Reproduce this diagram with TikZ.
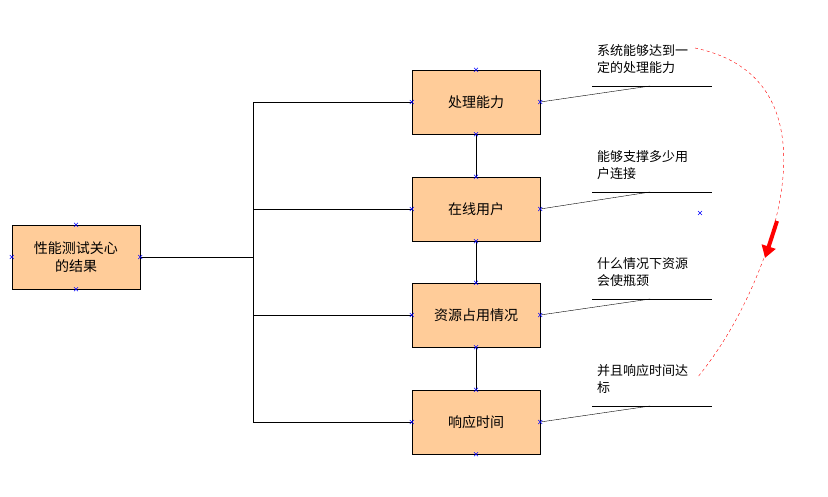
\documentclass[tikz,border=0pt]{standalone}
\usepackage{fontspec}
\setmainfont{Noto Sans CJK SC}
\usetikzlibrary{arrows.meta,calc}
\definecolor{boxfill}{RGB}{255,204,153}
\tikzset{
  item/.style={draw=black, fill=boxfill, minimum width=128pt, minimum height=64pt,
    inner sep=0pt, align=center, font=\fontsize{14}{18}\selectfont},
  note/.style={anchor=north west, align=left, inner sep=0pt, font=\fontsize{13}{17}\selectfont},
  xpt/.style={draw=blue, line width=0.5pt},
}
\newcommand{\xmark}[1]{\draw[xpt] ($#1+(-2,-2)$) -- ($#1+(2,2)$) ($#1+(-2,2)$) -- ($#1+(2,-2)$);}
\begin{document}
\begin{tikzpicture}[x=1pt,y=-1pt]
  \useasboundingbox (0,0) rectangle (828,496);
  % boxes
  \node[item] (root) at (76,257) {性能测试关心\\的结果};
  \node[item] (b1) at (476,102) {处理能力};
  \node[item] (b2) at (476,209) {在线用户};
  \node[item] (b3) at (476,315) {资源占用情况};
  \node[item] (b4) at (476,422) {响应时间};
  % tree lines
  \coordinate (bus) at (253,257);
  \draw (root.east) -- (bus);
  \draw (b1.west -| bus) -- (b4.west -| bus);
  \foreach \b in {b1,b2,b3,b4}
    \draw (\b.west -| bus) -- (\b.west);
  \draw (b1.south) -- (b2.north);
  \draw (b2.south) -- (b3.north);
  \draw (b3.south) -- (b4.north);
  % callouts
  \foreach \b/\y/\t in {b1/86/{系统能够达到一\\定的处理能力}, b2/192/{能够支撑多少用\\户连接},
                        b3/299/{什么情况下资源\\会使瓶颈}, b4/406/{并且响应时间达\\标}} {
    \draw (\b.east) -- (650,\y);
    \draw (592,\y) -- (712,\y);
    \node[note] at (597,\y-42) {\t};
  }
  % markers
  \foreach \b in {root,b1,b2,b3,b4} {
    \xmark{(\b.north)} \xmark{(\b.south)} \xmark{(\b.west)} \xmark{(\b.east)}
  }
  \xmark{(700,213)}
  % red dashed curve
  \draw[red, dashed] (695,48) .. controls (800,70) and (795,170) .. (765,255)
    .. controls (745,310) and (720,350) .. (697,378);
  \draw[red, line width=4pt, -{Triangle[width=14pt,length=12pt]}] (777,221) -- (765,258);
\end{tikzpicture}
\end{document}
